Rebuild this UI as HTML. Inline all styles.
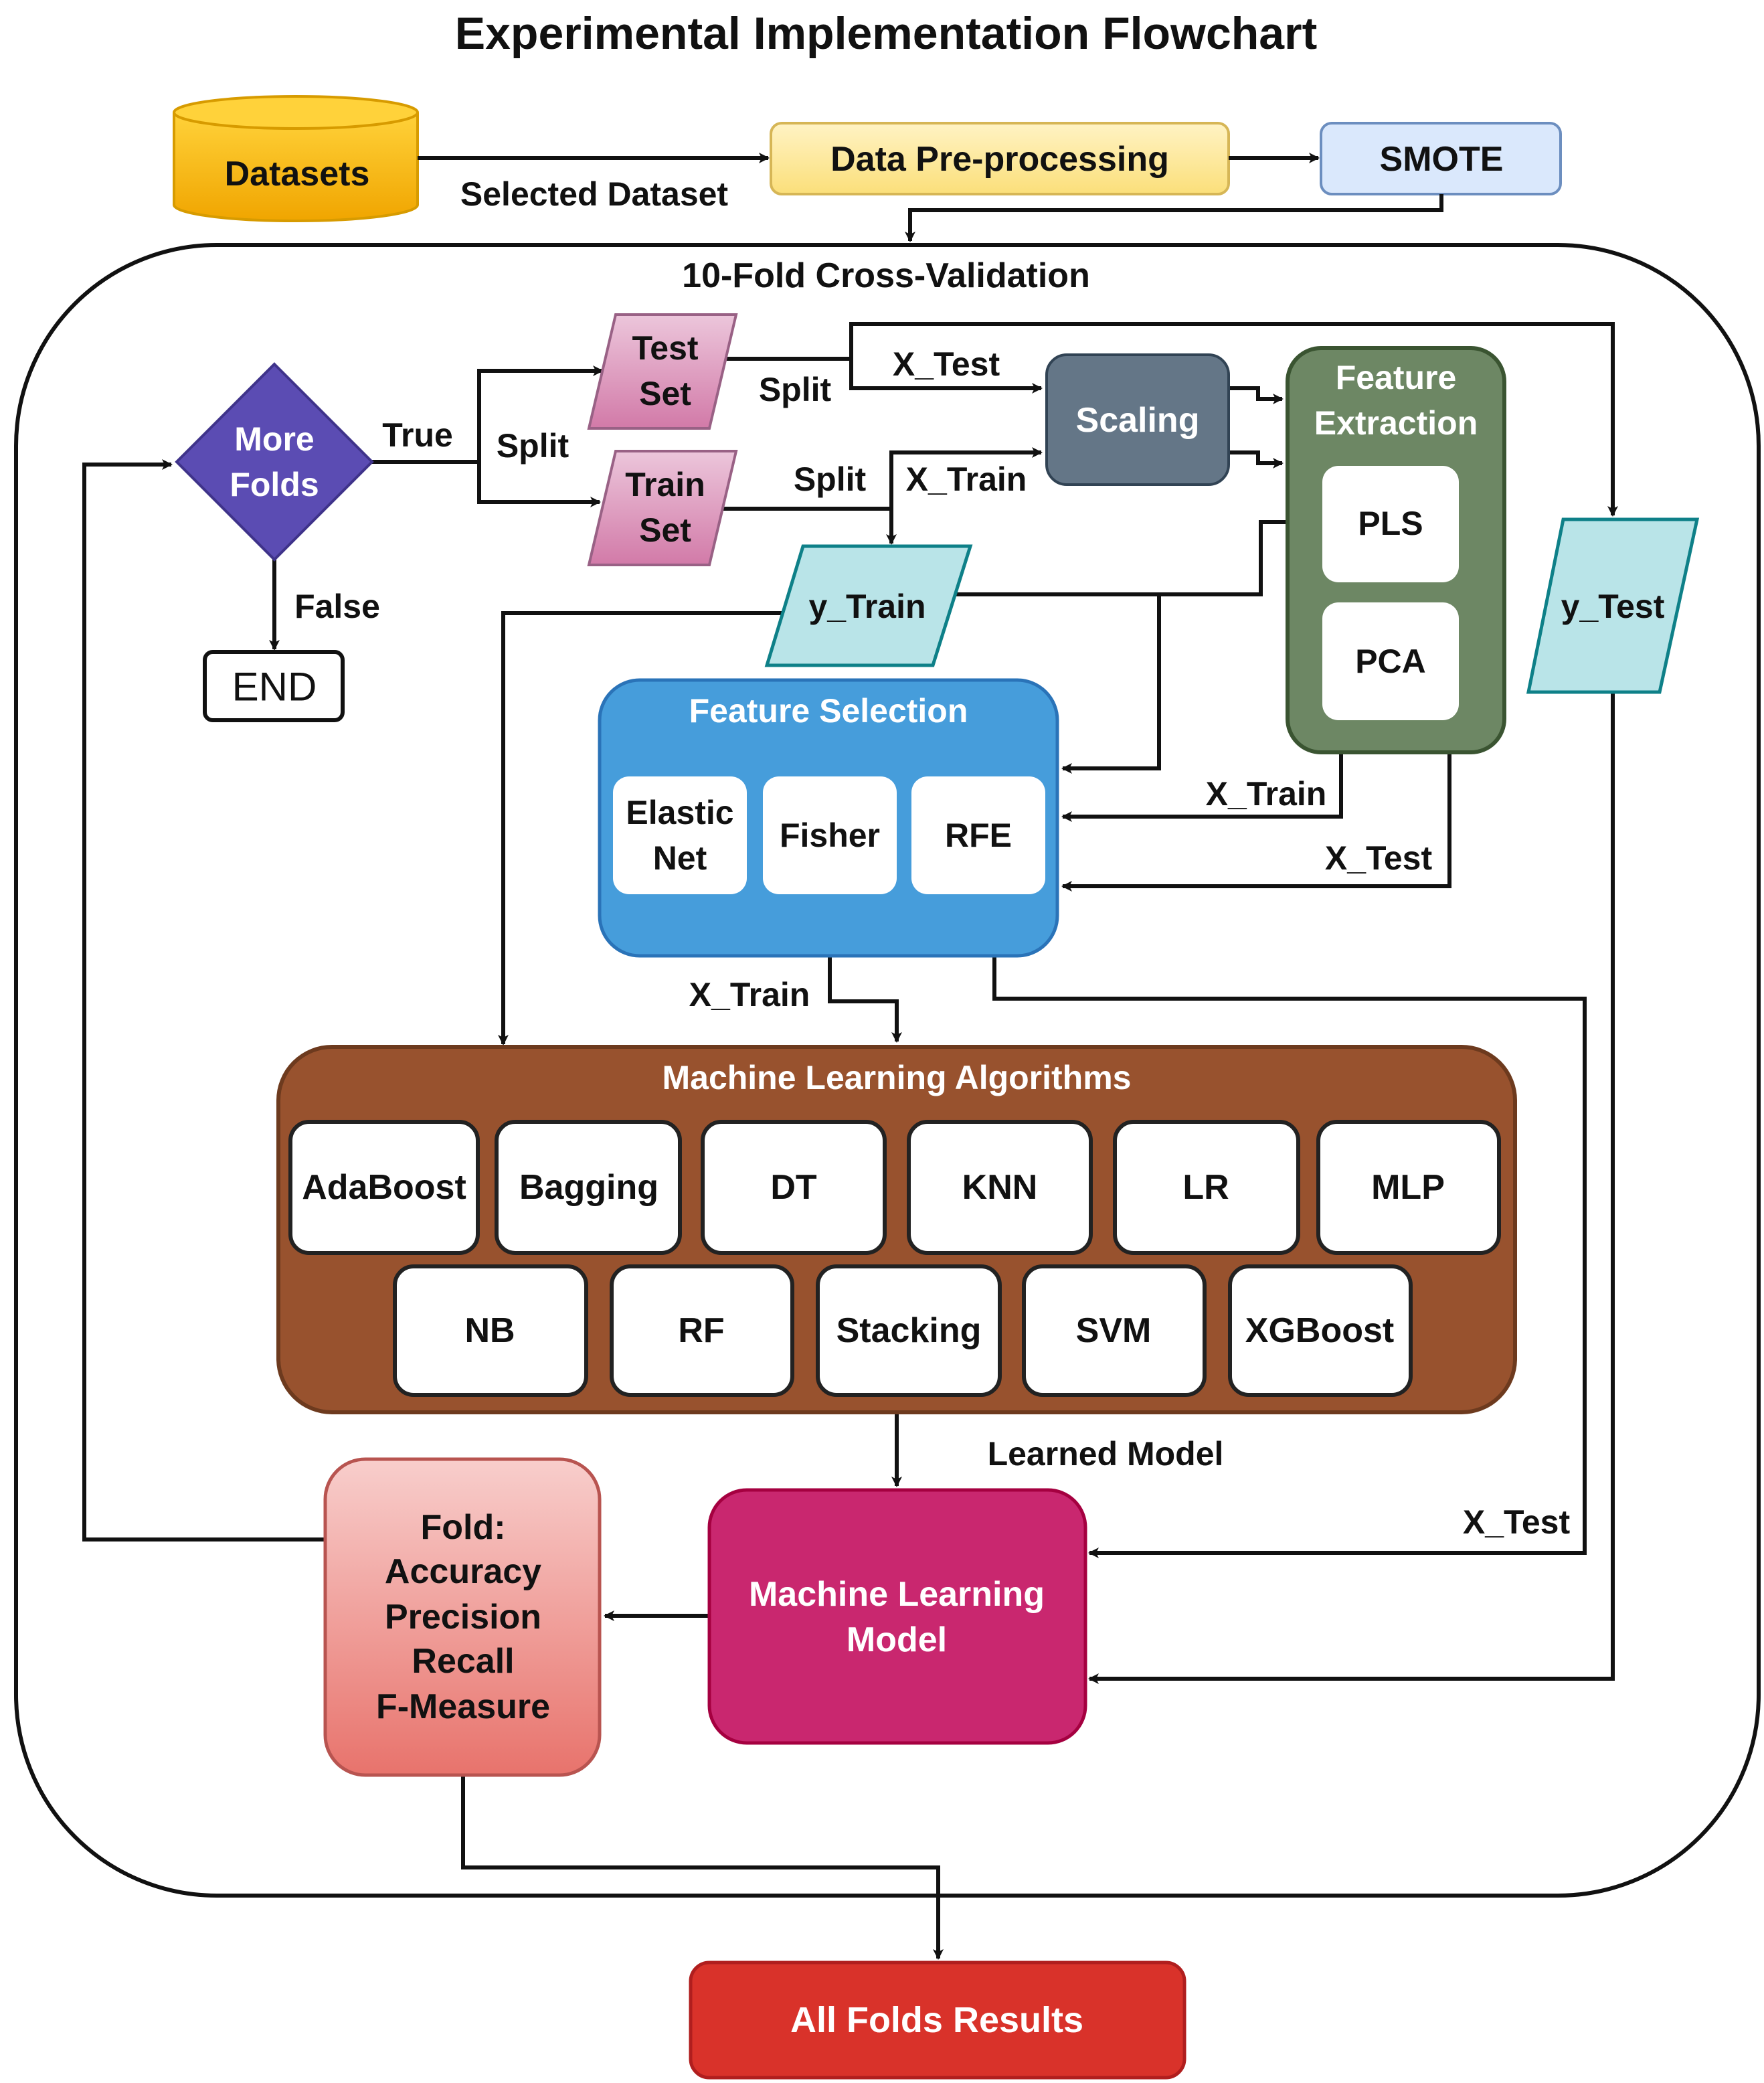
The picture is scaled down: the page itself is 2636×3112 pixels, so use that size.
<!DOCTYPE html>
<html><head><meta charset="utf-8"><style>
html,body{margin:0;padding:0;background:#fff}
svg{display:block}
text{font-family:"Liberation Sans Narrow","Liberation Sans",sans-serif;font-weight:bold;text-anchor:middle;dominant-baseline:central}
</style></head><body>
<svg width="2636" height="3112" viewBox="0 0 1318 1556" xmlns="http://www.w3.org/2000/svg">
<defs>
<marker id="a" markerWidth="8" markerHeight="8" refX="7" refY="4" orient="auto" markerUnits="userSpaceOnUse"><path d="M0,0 L8,4 L0,8 L2,4 z" fill="#111"/></marker>
<linearGradient id="gy" x1="0" y1="0" x2="0" y2="1"><stop offset="0" stop-color="#ffd23a"/><stop offset="1" stop-color="#f0a500"/></linearGradient>
<linearGradient id="gp" x1="0" y1="0" x2="0" y2="1"><stop offset="0" stop-color="#fff3c4"/><stop offset="1" stop-color="#fbdf7a"/></linearGradient>
<linearGradient id="gk" x1="0" y1="0" x2="0" y2="1"><stop offset="0" stop-color="#ecc6db"/><stop offset="1" stop-color="#d27aa8"/></linearGradient>
<linearGradient id="gf" x1="0" y1="0" x2="0" y2="1"><stop offset="0" stop-color="#f8cecc"/><stop offset="1" stop-color="#e8736c"/></linearGradient>
</defs>
<g stroke="#111" stroke-width="3" fill="none">
<text x="662" y="25" style="font-size:34px" stroke="none" fill="#111">Experimental Implementation Flowchart</text>
</g>
<!-- Datasets cylinder -->
<path d="M130,84 L130,153 A91,12 0 0 0 312,153 L312,84" fill="url(#gy)" stroke="#d79b00" stroke-width="2"/>
<ellipse cx="221" cy="84" rx="91" ry="12" fill="#ffd23a" stroke="#d79b00" stroke-width="2"/>
<text x="222" y="130" style="font-size:26px" fill="#111">Datasets</text>
<rect x="576" y="92" width="342" height="53" rx="8" fill="url(#gp)" stroke="#d6b656" stroke-width="2"/>
<text x="747" y="119" style="font-size:26px" fill="#111">Data Pre-processing</text>
<rect x="987" y="92" width="179" height="53" rx="8" fill="#dae8fc" stroke="#6c8ebf" stroke-width="2"/>
<text x="1077" y="119" style="font-size:26px" fill="#111">SMOTE</text>
<g stroke="#111" stroke-width="3" fill="none">
<path d="M312,118 H574" marker-end="url(#a)"/>
<path d="M918,118 H985" marker-end="url(#a)"/>
<path d="M1077,145 V157 H680 V180" marker-end="url(#a)"/>
<rect x="12" y="183" width="1302" height="1233" rx="150"/>
</g>
<text x="444" y="145" style="font-size:25px" fill="#111">Selected Dataset</text>
<text x="662" y="206" style="font-size:26px" fill="#111">10-Fold Cross-Validation</text>

<!-- connectors -->
<g stroke="#111" stroke-width="3" fill="none">
<path d="M278,345 H358"/>
<path d="M358,345 V277 H450" marker-end="url(#a)"/>
<path d="M358,345 V375 H448" marker-end="url(#a)"/>
<path d="M540,268 H636 V242 H1205 V385" marker-end="url(#a)"/>
<path d="M636,268 V290 H778" marker-end="url(#a)"/>
<path d="M535,380 H666 V406" marker-end="url(#a)"/>
<path d="M666,380 V338 H778" marker-end="url(#a)"/>
<path d="M918,290 H940 V298 H958" marker-end="url(#a)"/>
<path d="M918,338 H940 V346 H958" marker-end="url(#a)"/>
<path d="M590,458 H376 V780" marker-end="url(#a)"/>
<path d="M710,444 H942 V390 H984" marker-end="url(#a)"/>
<path d="M866,444 V574 H794" marker-end="url(#a)"/>
<path d="M1205,517 V1254 H814" marker-end="url(#a)"/>
<path d="M1002,562 V610 H794" marker-end="url(#a)"/>
<path d="M1083,562 V662 H794" marker-end="url(#a)"/>
<path d="M620,714 V748 H670 V778" marker-end="url(#a)"/>
<path d="M743,714 V746 H1184 V1160 H814" marker-end="url(#a)"/>
<path d="M670,1055 V1110" marker-end="url(#a)"/>
<path d="M530,1207 H452" marker-end="url(#a)"/>
<path d="M243,1150 H63 V347 H128" marker-end="url(#a)"/>
<path d="M346,1326 V1395 H701 V1463" marker-end="url(#a)"/>
<path d="M205,418 V485" marker-end="url(#a)"/>
</g>
<g style="font-size:25px" fill="#111">
<text x="312" y="325">True</text>
<text x="398" y="333">Split</text>
<text x="594" y="291">Split</text>
<text x="707" y="272">X_Test</text>
<text x="620" y="358">Split</text>
<text x="722" y="358">X_Train</text>
<text x="252" y="453">False</text>
<text x="946" y="593">X_Train</text>
<text x="1030" y="641">X_Test</text>
<text x="560" y="743">X_Train</text>
<text x="1133" y="1137">X_Test</text>
<text x="826" y="1086">Learned Model</text>
</g>

<!-- diamond -->
<polygon points="205,272 278,345 205,418 132,345" fill="#5b4cb3" stroke="#3f338a" stroke-width="2"/>
<text x="205" y="328" style="font-size:25px" fill="#fff">More</text>
<text x="205" y="362" style="font-size:25px" fill="#fff">Folds</text>
<rect x="153" y="487" width="103" height="51" rx="6" fill="#fff" stroke="#111" stroke-width="3"/>
<text x="205" y="513" style="font-size:30px;font-weight:normal" fill="#111">END</text>

<!-- Test/Train set -->
<polygon points="460,235 550,235 530,320 440,320" fill="url(#gk)" stroke="#996185" stroke-width="2"/>
<text x="497" y="260" style="font-size:25px" fill="#111">Test</text>
<text x="497" y="294" style="font-size:25px" fill="#111">Set</text>
<polygon points="460,337 550,337 530,422 440,422" fill="url(#gk)" stroke="#996185" stroke-width="2"/>
<text x="497" y="362" style="font-size:25px" fill="#111">Train</text>
<text x="497" y="396" style="font-size:25px" fill="#111">Set</text>

<!-- Scaling -->
<rect x="782" y="265" width="136" height="97" rx="15" fill="#647687" stroke="#314354" stroke-width="2"/>
<text x="850" y="314" style="font-size:26px" fill="#fff">Scaling</text>

<!-- Feature extraction -->
<rect x="962" y="260" width="162" height="302" rx="25" fill="#6d8764" stroke="#3a5431" stroke-width="3"/>
<text x="1043" y="282" style="font-size:25px" fill="#fff">Feature</text>
<text x="1043" y="316" style="font-size:25px" fill="#fff">Extraction</text>
<rect x="988" y="348" width="102" height="87" rx="12" fill="#fff"/>
<text x="1039" y="391" style="font-size:25px" fill="#111">PLS</text>
<rect x="988" y="450" width="102" height="88" rx="12" fill="#fff"/>
<text x="1039" y="494" style="font-size:25px" fill="#111">PCA</text>

<!-- y_Train, y_Test -->
<polygon points="600,408 725,408 697,497 573,497" fill="#b9e4e8" stroke="#0e8088" stroke-width="2.5"/>
<text x="648" y="453" style="font-size:25px" fill="#111">y_Train</text>
<polygon points="1168,388 1268,388 1240,517 1142,517" fill="#b9e4e8" stroke="#0e8088" stroke-width="2.5"/>
<text x="1205" y="453" style="font-size:25px" fill="#111">y_Test</text>

<!-- Feature selection -->
<rect x="448" y="508" width="342" height="206" rx="30" fill="#469ddb" stroke="#2a73b8" stroke-width="2.5"/>
<text x="619" y="531" style="font-size:25px" fill="#fff">Feature Selection</text>
<rect x="458" y="580" width="100" height="88" rx="12" fill="#fff"/>
<text x="508" y="607" style="font-size:25px" fill="#111">Elastic</text>
<text x="508" y="641" style="font-size:25px" fill="#111">Net</text>
<rect x="570" y="580" width="100" height="88" rx="12" fill="#fff"/>
<text x="620" y="624" style="font-size:25px" fill="#111">Fisher</text>
<rect x="681" y="580" width="100" height="88" rx="12" fill="#fff"/>
<text x="731" y="624" style="font-size:25px" fill="#111">RFE</text>

<!-- ML algorithms -->
<rect x="208" y="782" width="924" height="273" rx="40" fill="#98522e" stroke="#6d3a1e" stroke-width="3"/>
<text x="670" y="805" style="font-size:25px" fill="#fff">Machine Learning Algorithms</text>
<g fill="#fff" stroke="#222" stroke-width="3">
<rect x="217" y="838" width="140" height="98" rx="14"/>
<rect x="371" y="838" width="137" height="98" rx="14"/>
<rect x="525" y="838" width="136" height="98" rx="14"/>
<rect x="679" y="838" width="136" height="98" rx="14"/>
<rect x="833" y="838" width="137" height="98" rx="14"/>
<rect x="985" y="838" width="135" height="98" rx="14"/>
<rect x="295" y="946" width="143" height="96" rx="14"/>
<rect x="457" y="946" width="135" height="96" rx="14"/>
<rect x="611" y="946" width="136" height="96" rx="14"/>
<rect x="765" y="946" width="135" height="96" rx="14"/>
<rect x="919" y="946" width="135" height="96" rx="14"/>
</g>
<g style="font-size:26px" fill="#111">
<text x="287" y="887">AdaBoost</text>
<text x="440" y="887">Bagging</text>
<text x="593" y="887">DT</text>
<text x="747" y="887">KNN</text>
<text x="901" y="887">LR</text>
<text x="1052" y="887">MLP</text>
<text x="366" y="994">NB</text>
<text x="524" y="994">RF</text>
<text x="679" y="994">Stacking</text>
<text x="832" y="994">SVM</text>
<text x="986" y="994">XGBoost</text>
</g>

<!-- ML model -->
<rect x="530" y="1113" width="281" height="189" rx="28" fill="#c9276f" stroke="#a50040" stroke-width="2.5"/>
<text x="670" y="1191" style="font-size:26px" fill="#fff">Machine Learning</text>
<text x="670" y="1225" style="font-size:26px" fill="#fff">Model</text>

<!-- Fold -->
<rect x="243" y="1090" width="205" height="236" rx="30" fill="url(#gf)" stroke="#b85450" stroke-width="2.5"/>
<g style="font-size:26px" fill="#111">
<text x="346" y="1141">Fold:</text>
<text x="346" y="1174">Accuracy</text>
<text x="346" y="1208">Precision</text>
<text x="346" y="1241">Recall</text>
<text x="346" y="1275">F-Measure</text>
</g>

<!-- All folds -->
<rect x="516" y="1466" width="369" height="86" rx="14" fill="#d9322a" stroke="#b01e1e" stroke-width="2.5"/>
<text x="700" y="1509" style="font-size:27px" fill="#fff">All Folds Results</text>
</svg>
</body></html>
